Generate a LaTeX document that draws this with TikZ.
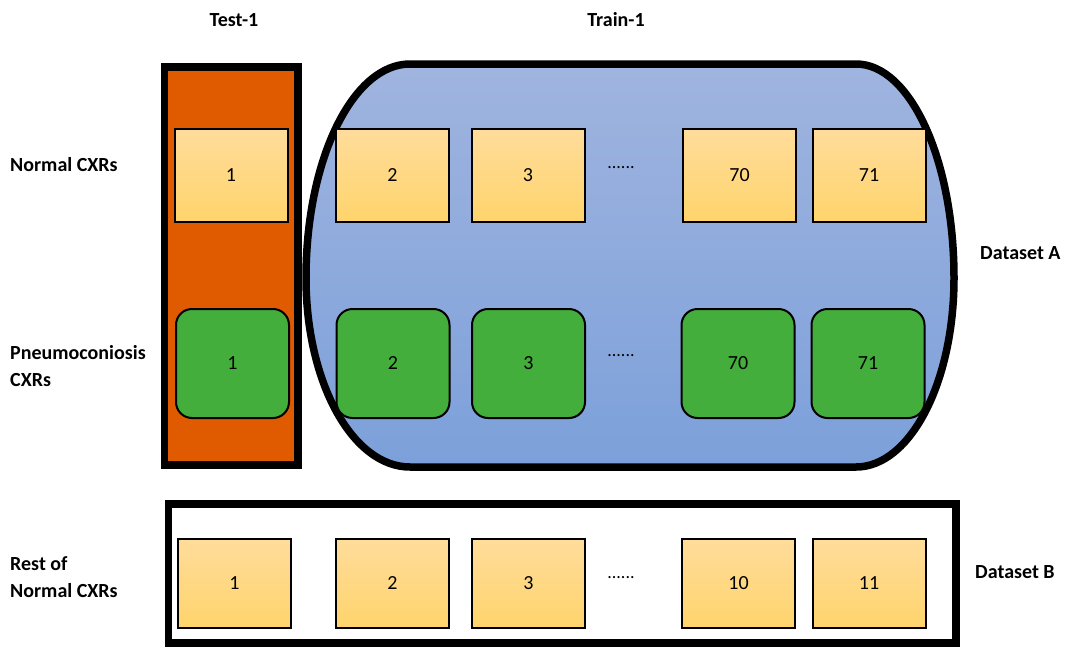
\documentclass[tikz,border=0pt]{standalone}
\usepackage{fontspec}
\setmainfont{Carlito}
\definecolor{testorange}{RGB}{224,90,0}
\definecolor{cxrgreen}{RGB}{68,174,60}
\definecolor{normtop}{RGB}{255,220,155}
\definecolor{normbot}{RGB}{255,212,108}
\definecolor{traintop}{RGB}{160,180,223}
\definecolor{trainbot}{RGB}{124,160,218}
\tikzset{
  normbox/.style={draw=black, line width=2pt, top color=normtop, bottom color=normbot,
    minimum width=113pt, minimum height=93pt, inner sep=0pt,
    font=\fontsize{20}{24}\selectfont},
  pneubox/.style={draw=black, line width=2pt, fill=cxrgreen, rounded corners=16pt,
    minimum width=113pt, minimum height=109pt, inner sep=0pt,
    font=\fontsize{20}{24}\selectfont},
  rowlabel/.style={anchor=west, align=left, inner sep=0pt,
    font=\fontsize{20}{27}\selectfont\bfseries},
  gaplabel/.style={anchor=base, inner sep=0pt, font=\fontsize{18}{22}\selectfont},
  container/.style={draw=black, line width=7.5pt},
}
\begin{document}
\begin{tikzpicture}[x=1pt, y=-1pt]
\useasboundingbox (0,0) rectangle (1065,648);

% Test-1 column
\draw[container, fill=testorange] (164.5,67) rectangle (298,465);

% Train-1 pool: flat top and bottom, elliptical ends
\draw[container, line join=round, top color=traintop, bottom color=trainbot]
  (306,278) arc[start angle=180, end angle=270, x radius=104, y radius=214]
  -- (856,64) arc[start angle=270, end angle=360, x radius=98, y radius=214]
  arc[start angle=0, end angle=90, x radius=98, y radius=189]
  -- (410,467) arc[start angle=90, end angle=180, x radius=104, y radius=189]
  -- cycle;

% Dataset B frame
\draw[container] (168.5,504) rectangle (956,643);

% headings
\node[font=\fontsize{20}{24}\selectfont\bfseries] (test) at (234,20) {Test-1};
\node[font=\fontsize{20}{24}\selectfont\bfseries] (train) at (616,20) {Train-1};

% row labels
\node[rowlabel] (lnorm) at (10,165) {Normal CXRs};
\node[rowlabel] (lpneu) at (10,366) {Pneumoconiosis\\CXRs};
\node[rowlabel] (lrest) at (10,577) {Rest of\\Normal CXRs};
\node[rowlabel] (dsa) at (980,253) {Dataset A};
\node[rowlabel] (dsb) at (975,572) {Dataset B};

% normal CXR row (dataset A)
\node[normbox] (n1) at (231,175.5) {1};
\node[normbox] (n2) at (392.5,175.5) {2};
\node[normbox] (n3) at (528,175.5) {3};
\node[normbox] (n70) at (739.5,175.5) {70};
\node[normbox] (n71) at (869,175.5) {71};
\node[gaplabel] (ndots) at (621,168) {......};

% pneumoconiosis CXR row (dataset A)
\node[pneubox] (p1) at (232.5,363.5) {1};
\node[pneubox] (p2) at (393,363.5) {2};
\node[pneubox] (p3) at (528.5,363.5) {3};
\node[pneubox] (p70) at (738,363.5) {70};
\node[pneubox] (p71) at (868,363.5) {71};
\node[gaplabel] (pdots) at (621,356) {......};

% remaining normal CXRs (dataset B)
\node[normbox, minimum height=89pt] (r1) at (234.5,583.5) {1};
\node[normbox, minimum height=89pt] (r2) at (392.5,583.5) {2};
\node[normbox, minimum height=89pt] (r3) at (528.5,583.5) {3};
\node[normbox, minimum height=89pt] (r10) at (738.5,583.5) {10};
\node[normbox, minimum height=89pt] (r11) at (869,583.5) {11};
\node[gaplabel] (rdots) at (621,578) {......};
\end{tikzpicture}
\end{document}
